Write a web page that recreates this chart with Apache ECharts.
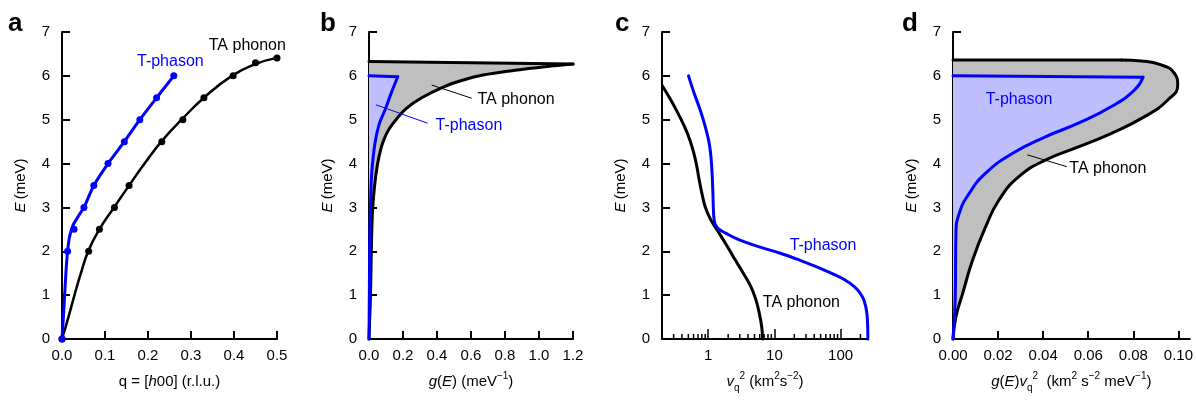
<!DOCTYPE html>
<html>
<head>
<meta charset="utf-8">
<script src="https://cdn.jsdelivr.net/npm/echarts@6/dist/echarts.min.js"></script>
<style>
html, body { margin: 0; padding: 0; background: #fff; }
#chart { width: 1196px; height: 400px; }
</style>
</head>
<body>
<div id="chart"></div>
<script>
var FONT = '"Liberation Sans", Arial, sans-serif';
var BLUE = '#0000ff';
var GREY = '#bfbfbf';
var LIGHT = '#bfbfff';

// a: dispersion, measured points and fitted curves
var qPhasonDots = [0, 0.013, 0.028, 0.051, 0.074, 0.107, 0.145, 0.181, 0.220, 0.260];
var ePhasonDots = [0, 2.0, 2.5, 3.0, 3.5, 4.0, 4.5, 5.0, 5.5, 6.0];
var qPhononDots = [0, 0.062, 0.087, 0.122, 0.156, 0.232, 0.281, 0.330, 0.398, 0.450, 0.500];
var ePhononDots = [0, 2.0, 2.5, 3.0, 3.5, 4.5, 5.0, 5.5, 6.0, 6.3, 6.41];
var qPhasonFit = [0, 0.005, 0.009, 0.013, 0.018, 0.026, 0.04, 0.051, 0.074, 0.107, 0.145, 0.181, 0.220, 0.260];
var ePhasonFit = [0, 0.8, 1.5, 2.0, 2.35, 2.6, 2.83, 3.0, 3.5, 4.0, 4.5, 5.0, 5.5, 6.0];
var qPhononFit = [0, 0.015, 0.029, 0.044, 0.061, 0.087, 0.121, 0.156, 0.192, 0.231, 0.278, 0.330, 0.395, 0.45, 0.5];
var ePhononFit = [0, 0.5, 1.0, 1.5, 2.0, 2.5, 3.0, 3.5, 4.0, 4.5, 5.0, 5.5, 6.0, 6.27, 6.41];

// b: density of states g(E)
var gPhonon = [0, 0.008, 0.012, 0.016, 0.022, 0.033, 0.049, 0.07, 0.09, 0.12, 0.165, 0.22, 0.31, 0.44, 0.55, 0.67, 0.86, 1.035, 1.2];
var eGPhonon = [0, 0.91, 1.67, 2.43, 3.0, 3.5, 3.96, 4.34, 4.57, 4.8, 5.03, 5.26, 5.5, 5.75, 5.9, 6.02, 6.13, 6.21, 6.27];
var gPhononTop = 6.33;
var gPhason = [0, 0.002, 0.005, 0.01, 0.016, 0.035, 0.06, 0.094, 0.13, 0.169];
var eGPhason = [0, 1.0, 2.4, 3.2, 3.78, 4.46, 4.9, 5.22, 5.6, 5.98];
var gPhasonTop = 6.0;

// c: group velocity squared (log axis)
var vPhonon = [0.203, 0.272, 0.351, 0.438, 0.527, 0.607, 0.673, 0.731, 0.802, 0.901, 1.098, 1.468, 1.963, 2.565, 3.39, 4.43, 5.27, 5.93, 6.43, 6.66];
var eVPhonon = [5.77, 5.45, 5.14, 4.84, 4.54, 4.23, 3.93, 3.62, 3.32, 3.01, 2.71, 2.41, 2.10, 1.80, 1.50, 1.19, 0.89, 0.58, 0.28, 0];
var vPhason = [0.503, 0.614, 0.756, 0.901, 1.036, 1.11, 1.15, 1.177, 1.205, 1.262, 1.434, 1.852, 2.95, 5.93, 12.6, 23.9, 42.8, 72.2, 115, 163, 198.6, 225.6, 250.6, 259];
var eVPhason = [6.0, 5.6, 5.22, 4.84, 4.46, 4.08, 3.70, 3.32, 2.86, 2.63, 2.51, 2.41, 2.26, 2.10, 1.95, 1.80, 1.65, 1.50, 1.35, 1.19, 1.04, 0.89, 0.58, 0];
var cMajorTicks = [1, 10, 100];
var cMinorTicks = [0.3, 0.4, 0.5, 0.6, 0.7, 0.8, 0.9, 2, 3, 4, 5, 6, 7, 8, 9, 20, 30, 40, 50, 60, 70, 80, 90, 200];

// d: g(E) vg^2
var dPhonon = [0, 0.0013, 0.0043, 0.0087, 0.0145, 0.0204, 0.0292, 0.041, 0.0556, 0.0703, 0.085, 0.0953, 0.0997, 0.0982, 0.0924, 0.0836, 0.0748];
var eDPhonon = [0, 0.51, 1.04, 1.80, 2.56, 3.17, 3.70, 4.08, 4.38, 4.69, 5.07, 5.45, 5.79, 6.06, 6.25, 6.34, 6.36];
var dPhononTop = 6.36;
var dPhason = [0, 0.001, 0.0013, 0.0028, 0.0072, 0.0145, 0.0263, 0.041, 0.0556, 0.0703, 0.0806, 0.0843];
var eDPhason = [0, 0.95, 2.41, 2.87, 3.32, 3.78, 4.23, 4.61, 4.92, 5.30, 5.68, 5.97];
var dPhasonTop = 6.0;
var dTicks = [0, 0.02, 0.04, 0.06, 0.08, 0.10];

function zip(xs, ys) {
	return xs.map(function (x, i) { return [x, ys[i]]; });
}
function last(a) { return a[a.length - 1]; }

var richName = {
	n: { fontSize: 15, fontFamily: FONT, color: '#000', lineHeight: 22 },
	i: { fontSize: 15, fontFamily: FONT, color: '#000', fontStyle: 'italic', lineHeight: 22 },
	sup: { fontSize: 10, fontFamily: FONT, color: '#000', lineHeight: 12, verticalAlign: 'top' },
	sub: { fontSize: 10, fontFamily: FONT, color: '#000', lineHeight: 12, verticalAlign: 'bottom' }
};

var lineAxis = { show: true, onZero: false, lineStyle: { color: '#000', width: 2 } };
var tickIn = { inside: true, length: 8, lineStyle: { color: '#000', width: 2 } };
var labelStyle = { fontSize: 15, fontFamily: FONT, color: '#000' };

function eAxis(grid) {
	return {
		type: 'value', gridIndex: grid, min: 0, max: 7, interval: 1,
		name: '{i|E} {n|(meV)}', nameLocation: 'middle', nameGap: 30,
		nameTextStyle: { rich: richName },
		axisLine: lineAxis, axisTick: tickIn,
		axisLabel: Object.assign({ margin: 12 }, labelStyle),
		splitLine: { show: false }
	};
}

function xValueAxis(grid, max, interval, digits, name) {
	return {
		type: 'value', gridIndex: grid, min: 0, max: max, interval: interval,
		name: name, nameLocation: 'middle', nameGap: 32,
		nameTextStyle: { rich: richName },
		axisLine: lineAxis, axisTick: tickIn,
		axisLabel: Object.assign({ margin: 9, formatter: function (v) { return v.toFixed(digits); } }, labelStyle),
		splitLine: { show: false }
	};
}

function fill(grid, xs, ys, topE, color) {
	var pts = zip(xs, ys).concat([[0, topE]]);
	return {
		type: 'custom', xAxisIndex: grid, yAxisIndex: grid, z: 1, silent: true,
		data: [[1, 1]],
		renderItem: function (params, api) {
			return {
				type: 'polygon',
				shape: { points: pts.map(function (p) { return api.coord(p); }) },
				style: { fill: color }
			};
		}
	};
}

function curve(grid, data, color, width, smooth) {
	return {
		type: 'line', xAxisIndex: grid, yAxisIndex: grid, z: 3, clip: false,
		data: data, smooth: smooth, symbol: 'none', silent: true,
		lineStyle: { color: color, width: width, cap: 'round', join: 'round' }
	};
}

function dots(grid, data, color) {
	return {
		type: 'scatter', xAxisIndex: grid, yAxisIndex: grid, z: 4, clip: false,
		data: data, symbolSize: 7, silent: true,
		itemStyle: { color: color, opacity: 1 }
	};
}

// text annotations placed at data coordinates
function notes(grid, list) {
	return {
		type: 'custom', xAxisIndex: grid, yAxisIndex: grid, z: 6, silent: true,
		data: list.map(function (n) { return [n[0], n[1]]; }),
		renderItem: function (params, api) {
			var n = list[params.dataIndex];
			var p = api.coord([n[0], n[1]]);
			return {
				type: 'text', x: p[0], y: p[1],
				style: { text: n[2], fill: n[3], fontSize: 16, fontFamily: FONT, align: 'center', verticalAlign: 'middle' }
			};
		}
	};
}

function leader(grid, p1, p2, color) {
	var s = curve(grid, [p1, p2], color, 1, false);
	s.z = 5;
	s.lineStyle.cap = 'butt';
	return s;
}

var chart = echarts.init(document.getElementById('chart'), null, { renderer: 'canvas' });

var option = {
	backgroundColor: '#fff',
	animation: false,
	grid: [
		{ left: 62, top: 32, width: 215, height: 307 },
		{ left: 369, top: 32, width: 204, height: 307 },
		{ left: 662, top: 32, width: 206, height: 307 },
		{ left: 953, top: 32, width: 238, height: 307 }
	],
	xAxis: [
		xValueAxis(0, 0.5, 0.1, 1, '{n|q = [}{i|h}{n|00] (r.l.u.)}'),
		xValueAxis(1, 1.2, 0.2, 1, '{i|g}{n|(}{i|E}{n|) (meV}{sup|\u22121}{n|)}'),
		{
			type: 'log', gridIndex: 2, logBase: 10, min: 0.2, max: 260,
			name: '{i|v}{sub|q}{sup|2}{n| (km}{sup|2}{n|s}{sup|\u22122}{n|)}',
			nameLocation: 'middle', nameGap: 32, nameTextStyle: { rich: richName },
			axisLine: lineAxis,
			axisTick: { inside: true, length: 10, lineStyle: { color: '#000', width: 1.5 } },
			axisLabel: Object.assign({
				margin: 9,
				formatter: function (v) { return cMajorTicks.indexOf(v) >= 0 ? String(v) : ''; }
			}, labelStyle),
			splitLine: { show: false }
		},
		{
			type: 'value', gridIndex: 3, min: 0, max: 0.105,
			name: '{i|g}{n|(}{i|E}{n|)}{i|v}{sub|q}{sup|2}{n|  (km}{sup|2}{n| s}{sup|\u22122}{n| meV}{sup|\u22121}{n|)}',
			nameLocation: 'middle', nameGap: 32, nameTextStyle: { rich: richName },
			axisLine: lineAxis,
			axisTick: Object.assign({ customValues: dTicks }, tickIn),
			axisLabel: Object.assign({
				margin: 9, customValues: dTicks,
				formatter: function (v) { return v.toFixed(2); }
			}, labelStyle),
			splitLine: { show: false }
		}
	],
	yAxis: [eAxis(0), eAxis(1), eAxis(2), eAxis(3)],
	graphic: [
		{ type: 'text', left: 8, top: 11, style: { text: 'a', fontSize: 26, fontWeight: 'bold', fontFamily: FONT, fill: '#000' } },
		{ type: 'text', left: 320, top: 11, style: { text: 'b', fontSize: 26, fontWeight: 'bold', fontFamily: FONT, fill: '#000' } },
		{ type: 'text', left: 615, top: 11, style: { text: 'c', fontSize: 26, fontWeight: 'bold', fontFamily: FONT, fill: '#000' } },
		{ type: 'text', left: 902, top: 11, style: { text: 'd', fontSize: 26, fontWeight: 'bold', fontFamily: FONT, fill: '#000' } }
	],
	series: [
		// a
		curve(0, zip(qPhononFit, ePhononFit), '#000', 2.5, true),
		curve(0, zip(qPhasonFit, ePhasonFit), BLUE, 3, 0.3),
		dots(0, zip(qPhononDots, ePhononDots), '#000'),
		dots(0, zip(qPhasonDots, ePhasonDots), BLUE),
		notes(0, [[0.252, 6.32, 'T-phason', BLUE], [0.431, 6.68, 'TA phonon', '#000']]),

		// b
		fill(1, gPhonon, eGPhonon, gPhononTop, GREY),
		fill(1, gPhason, eGPhason, gPhasonTop, LIGHT),
		curve(1, zip(gPhonon, eGPhonon), '#000', 3, 0.4),
		curve(1, [[last(gPhonon), last(eGPhonon)], [0, gPhononTop]], '#000', 3, false),
		curve(1, zip(gPhason, eGPhason), BLUE, 3, 0.4),
		curve(1, [[last(gPhason), last(eGPhason)], [0, gPhasonTop]], BLUE, 3, false),
		leader(1, [0.369, 5.79], [0.604, 5.49], '#000'),
		leader(1, [0.041, 5.34], [0.345, 4.92], BLUE),
		notes(1, [[0.865, 5.45, 'TA phonon', '#000'], [0.588, 4.86, 'T-phason', BLUE]]),

		// c
		curve(2, zip(vPhonon, eVPhonon), '#000', 3, 0.4),
		curve(2, zip(vPhason, eVPhason), BLUE, 3, 0.4),
		{
			type: 'custom', xAxisIndex: 2, yAxisIndex: 2, z: 2, silent: true,
			data: cMinorTicks.map(function (v) { return [v, 0]; }),
			renderItem: function (params, api) {
				var p = api.coord([api.value(0), 0]);
				return {
					type: 'line',
					shape: { x1: p[0], y1: p[1], x2: p[0], y2: p[1] - 5 },
					style: { stroke: '#000', lineWidth: 1.5 }
				};
			}
		},
		notes(2, [[54.3, 2.12, 'T-phason', BLUE], [25.6, 0.82, 'TA phonon', '#000']]),

		// d
		fill(3, dPhonon, eDPhonon, dPhononTop, GREY),
		fill(3, dPhason, eDPhason, dPhasonTop, LIGHT),
		curve(3, zip(dPhonon, eDPhonon), '#000', 3, true),
		curve(3, [[last(dPhonon), last(eDPhonon)], [0, dPhononTop]], '#000', 3, false),
		curve(3, zip(dPhason, eDPhason), BLUE, 3, true),
		curve(3, [[last(dPhason), last(eDPhason)], [0, dPhasonTop]], BLUE, 3, false),
		leader(3, [0.0329, 4.2], [0.0505, 3.93], '#000'),
		notes(3, [[0.0293, 5.45, 'T-phason', BLUE], [0.0687, 3.88, 'TA phonon', '#000']])
	]
};

chart.setOption(option);
</script>
</body>
</html>
